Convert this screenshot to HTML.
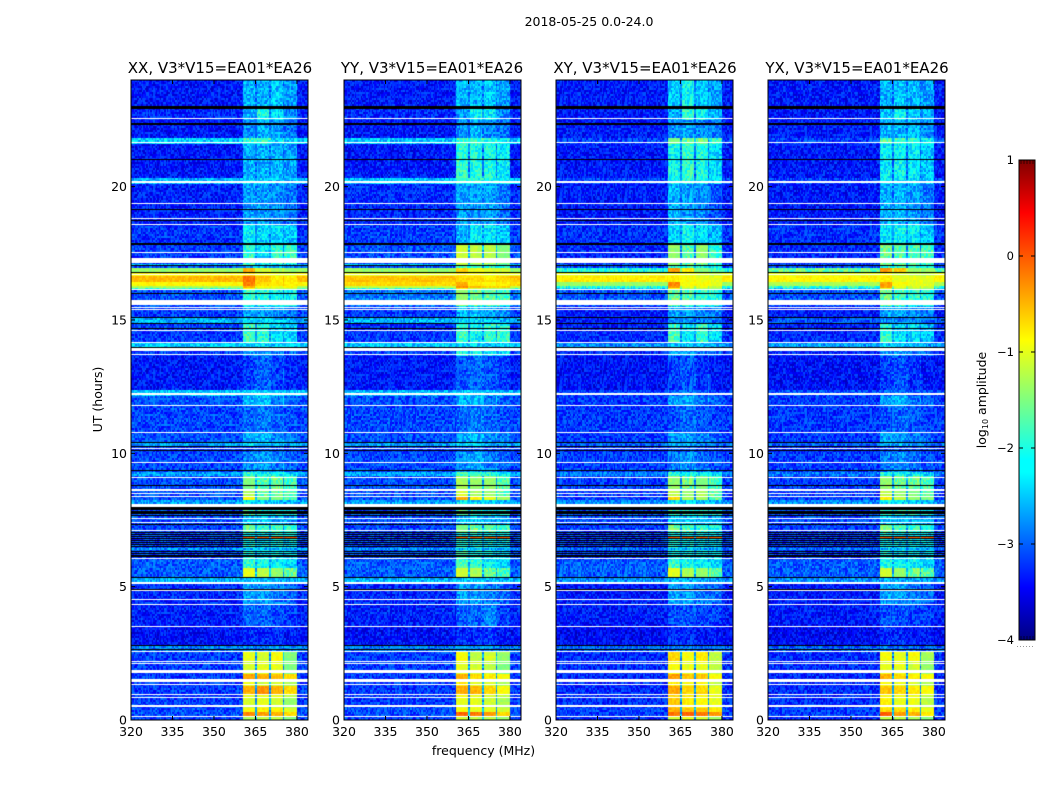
<!DOCTYPE html>
<html>
<head>
<meta charset="utf-8">
<title>2018-05-25 0.0-24.0</title>
<style>
html,body{margin:0;padding:0;background:#fff}
#figure{position:relative;width:1050px;height:800px;overflow:hidden;background:#fff;font-family:"DejaVu Sans","Liberation Sans",sans-serif}
canvas{position:absolute;top:80px;display:block}
svg{position:absolute;left:0;top:0}
text{font-family:"DejaVu Sans","Liberation Sans",sans-serif;fill:#000}
</style>
</head>
<body>
<div id="figure">
<canvas id="heat0" width="177" height="640" style="left:131px"></canvas>
<canvas id="heat1" width="177" height="640" style="left:344px"></canvas>
<canvas id="heat2" width="177" height="640" style="left:556px"></canvas>
<canvas id="heat3" width="177" height="640" style="left:768px"></canvas>
<svg id="overlay" width="1050" height="800" viewBox="0 0 1050 800">
<defs>
<linearGradient id="jet" x1="0" y1="1" x2="0" y2="0">
<stop offset="0" stop-color="#000080"/>
<stop offset="0.11" stop-color="#0000ff"/>
<stop offset="0.35" stop-color="#00ffff"/>
<stop offset="0.375" stop-color="#00ffff"/>
<stop offset="0.625" stop-color="#ffff00"/>
<stop offset="0.89" stop-color="#ff0000"/>
<stop offset="1" stop-color="#800000"/>
</linearGradient>
</defs>
<text x="589" y="26" font-size="12.5" text-anchor="middle">2018-05-25 0.0-24.0</text>
<text x="220" y="73" font-size="15" text-anchor="middle">XX, V3*V15=EA01*EA26</text>
<text x="432" y="73" font-size="15" text-anchor="middle">YY, V3*V15=EA01*EA26</text>
<text x="645" y="73" font-size="15" text-anchor="middle">XY, V3*V15=EA01*EA26</text>
<text x="857" y="73" font-size="15" text-anchor="middle">YX, V3*V15=EA01*EA26</text>
<text x="483.500" y="755" font-size="12.5" text-anchor="middle">frequency (MHz)</text>
<text transform="translate(102,399.500) rotate(-90)" font-size="12.5" text-anchor="middle">UT (hours)</text>
<text transform="translate(986,400) rotate(-90)" font-size="12.5" text-anchor="middle">log<tspan font-size="8" dy="2">10</tspan><tspan dy="-2"> amplitude</tspan></text>
<rect x="1019" y="160" width="16" height="480" fill="url(#jet)" stroke="#000" stroke-width="1"/>
<line x1="1017" y1="646.500" x2="1035" y2="646.500" stroke="#999" stroke-width="1" stroke-dasharray="1 2"/>
</svg>
</div>
<script>
// Frequency (MHz) and UT (hours) axis ranges and tick labels
const freqDomain = [320, 384];
const utDomain = [0, 24];
const freqTicks = [320, 335, 350, 365, 380];
const utTicks = [0, 5, 10, 15, 20];
const colorTicks = [1, 0, -1, -2, -3, -4];
const colorTickLabels = ['1', '0', '\u22121', '\u22122', '\u22123', '\u22124'];
const colorDomain = [-4, 1];
const channelCount = 128;
const timeCount = 320;

// Edges of the four receiver sub-bands (MHz) and the gaps between them
const subBandEdges = [[360.5, 365.2], [365.7, 370.0], [370.6, 375.0], [375.7, 380.0]];

// UT hour at the top of each horizontal band
const bandTops = [24.00,22.99,22.53,21.82,21.63,20.35,20.13,18.59,17.88,17.35,17.13,17.05,16.92,16.77,16.68,16.42,16.30,16.19,16.13,15.55,15.44,15.06,14.88,14.58,14.14,13.98,13.68,12.38,12.18,11.76,10.79,10.39,10.26,10.07,9.33,9.14,8.61,8.39,8.24,7.97,7.67,7.37,7.03,6.47,6.36,6.03,5.72,5.35,5.20,4.33,3.55,2.78,2.55,2.17,1.71,1.44,1.31,0.98,0.81,0.48,0.30,0.14];

// log10 amplitude per band: [outside, sub-band 1, 2, 3, 4]
const levelsXX = [[-3.3,-2.5,-2.5,-2.4,-2.6],[-3.2,-2.5,-2.0,-2.3,-2.7],[-3.3,-2.7,-2.5,-2.6,-2.8],[-2.35,-1.9,-1.9,-2.3,-2.35],[-3.3,-2.5,-2.5,-2.5,-2.6],[-2.5,-2.3,-2.3,-2.4,-2.5],[-3.25,-2.6,-2.6,-2.7,-2.8],[-3.15,-2.2,-2.3,-2.3,-2.4],[-3.1,-1.9,-2.2,-1.9,-1.9],[-3.1,-1.9,-2.2,-1.9,-1.9],[-2.4,-1.8,-2.2,-2.3,-2.4],[-3.0,-2.5,-2.5,-2.6,-2.7],[-1.4,-0.5,-1.1,-1.3,-1.4],[-0.85,-0.7,-0.9,-1.0,-1.0],[-0.55,-0.2,-0.6,-0.8,-0.8],[-0.85,-0.25,-0.7,-0.8,-0.8],[-1.3,-0.5,-0.9,-1.0,-0.9],[-1.9,-0.9,-1.2,-1.2,-1.2],[-3.0,-1.9,-1.9,-2.1,-2.1],[-3.0,-2.4,-2.4,-2.5,-2.6],[-3.1,-2.6,-2.6,-2.7,-2.8],[-2.5,-2.3,-2.3,-2.4,-2.5],[-3.1,-1.9,-2.0,-2.3,-2.4],[-3.1,-1.8,-1.9,-2.2,-2.3],[-2.4,-2.3,-2.3,-2.4,-2.4],[-3.1,-2.6,-2.6,-2.8,-2.9],[-3.3,-3.1,-2.9,-3.1,-3.2],[-2.4,-2.3,-2.3,-2.4,-2.4],[-3.0,-2.5,-2.4,-2.8,-2.9],[-3.05,-2.9,-2.8,-2.9,-3.0],[-3.0,-2.5,-2.5,-2.7,-2.8],[-2.6,-2.3,-2.3,-2.5,-2.6],[-3.1,-3.0,-2.9,-3.0,-3.0],[-3.05,-2.7,-2.6,-2.8,-2.9],[-2.6,-1.9,-2.1,-2.2,-2.3],[-3.0,-1.5,-1.7,-1.6,-1.8],[-3.0,-1.3,-1.6,-1.7,-1.8],[-3.0,-0.9,-1.5,-1.5,-1.7],[-2.6,-2.2,-2.3,-2.4,-2.5],[-3.0,-1.8,-2.0,-2.0,-2.1],[-3.0,-2.4,-2.4,-2.5,-2.6],[-3.05,-1.6,-1.9,-1.8,-1.9],[-3.05,-2.0,-2.2,-2.1,-2.2],[-2.6,-2.5,-2.5,-2.6,-2.6],[-3.05,-2.0,-2.2,-2.2,-2.3],[-2.95,-1.9,-2.0,-2.2,-2.3],[-2.95,-1.0,-1.2,-1.4,-1.6],[-2.5,-2.4,-2.4,-2.5,-2.5],[-3.2,-2.6,-2.6,-2.8,-2.9],[-3.25,-2.9,-2.9,-3.0,-3.1],[-3.35,-3.2,-3.2,-3.2,-3.3],[-2.75,-2.7,-2.7,-2.7,-2.7],[-3.1,-1.0,-1.1,-0.9,-1.5],[-3.1,-1.1,-1.0,-1.0,-1.5],[-3.1,-0.4,-0.5,-0.6,-0.7],[-3.1,-1.0,-1.1,-1.1,-1.3],[-3.1,-0.5,-0.35,-0.5,-0.7],[-3.1,-1.0,-1.0,-1.0,-1.2],[-3.1,-1.1,-1.0,-1.1,-1.4],[-3.0,-0.9,-0.8,-0.8,-1.0],[-3.0,-0.3,-0.4,-0.5,-0.7],[-3.1,-1.3,-1.2,-1.2,-1.5]];
const levelsYY = [[-3.3,-2.5,-2.5,-2.4,-2.6],[-3.2,-2.6,-2.1,-2.2,-2.7],[-3.3,-2.7,-2.5,-2.7,-2.8],[-2.4,-1.8,-1.9,-2.0,-2.2],[-3.3,-1.9,-2.0,-2.0,-2.2],[-2.45,-2.0,-2.0,-2.1,-2.2],[-3.2,-2.6,-2.6,-2.6,-2.8],[-3.1,-2.5,-2.2,-2.2,-2.4],[-3.0,-1.1,-1.2,-1.2,-1.5],[-3.0,-1.1,-1.2,-1.2,-1.5],[-2.4,-1.3,-1.5,-1.6,-1.7],[-3.0,-1.8,-1.9,-2.0,-2.0],[-1.4,-0.7,-1.0,-1.1,-1.1],[-1.0,-0.8,-0.9,-1.0,-1.0],[-0.6,-0.7,-0.7,-0.8,-0.7],[-0.7,-0.5,-0.8,-0.9,-0.8],[-1.2,-0.3,-0.6,-0.7,-0.7],[-1.9,-0.8,-1.1,-1.3,-1.3],[-2.8,-1.4,-1.6,-1.7,-1.8],[-3.0,-2.4,-2.3,-2.5,-2.6],[-3.1,-2.5,-2.4,-2.6,-2.7],[-2.5,-2.3,-2.3,-2.4,-2.5],[-3.2,-1.9,-2.1,-1.9,-2.0],[-3.1,-1.8,-2.1,-1.9,-1.9],[-2.4,-2.3,-2.3,-2.4,-2.4],[-3.1,-2.0,-2.1,-2.2,-2.3],[-3.3,-3.0,-2.9,-3.0,-3.1],[-2.5,-2.4,-2.4,-2.5,-2.5],[-3.0,-2.5,-2.4,-2.8,-2.9],[-3.05,-2.9,-2.8,-2.9,-3.0],[-3.0,-2.5,-2.5,-2.7,-2.8],[-2.6,-2.3,-2.3,-2.5,-2.6],[-3.1,-3.0,-2.9,-3.0,-3.0],[-3.05,-2.7,-2.6,-2.8,-2.9],[-2.6,-1.8,-2.0,-2.0,-2.2],[-3.0,-1.3,-1.4,-1.4,-1.7],[-3.0,-1.1,-1.3,-1.4,-1.7],[-3.0,-0.5,-0.8,-1.0,-1.3],[-2.6,-2.2,-2.3,-2.4,-2.5],[-3.0,-1.7,-1.9,-2.0,-2.1],[-3.0,-2.4,-2.4,-2.5,-2.6],[-3.05,-1.5,-1.6,-1.7,-1.9],[-3.05,-2.0,-2.1,-2.1,-2.2],[-2.6,-2.5,-2.5,-2.6,-2.6],[-3.05,-1.9,-2.1,-2.2,-2.3],[-2.95,-1.8,-1.9,-2.2,-2.3],[-2.95,-1.1,-1.3,-1.6,-1.8],[-2.5,-2.4,-2.4,-2.5,-2.5],[-3.2,-2.6,-2.6,-2.8,-2.9],[-3.25,-2.9,-2.9,-2.7,-3.1],[-3.35,-3.2,-3.2,-3.1,-3.3],[-2.8,-2.7,-2.7,-2.7,-2.8],[-3.1,-0.9,-1.2,-1.1,-1.4],[-3.1,-1.0,-1.1,-1.2,-1.5],[-3.1,-0.5,-0.7,-0.8,-0.9],[-3.1,-0.8,-1.0,-1.1,-1.3],[-3.1,-0.5,-0.5,-0.7,-0.9],[-3.1,-0.9,-1.0,-1.1,-1.2],[-3.1,-1.0,-1.0,-1.1,-1.3],[-3.0,-0.9,-1.0,-1.0,-1.1],[-3.0,-0.1,-0.2,-0.4,-0.7],[-3.1,-1.1,-1.2,-1.2,-1.4]];
const levelsXY = [[-3.3,-2.4,-2.1,-2.4,-2.6],[-3.3,-2.5,-1.9,-2.1,-2.5],[-3.3,-2.7,-2.6,-2.7,-2.8],[-3.1,-1.5,-1.6,-1.6,-1.9],[-3.3,-2.1,-1.9,-2.0,-2.3],[-3.1,-2.1,-2.0,-2.1,-2.3],[-3.3,-2.5,-2.6,-2.7,-3.0],[-3.2,-2.3,-2.1,-2.3,-2.5],[-3.2,-1.4,-1.7,-1.4,-1.9],[-3.2,-1.4,-1.7,-1.4,-1.9],[-3.0,-1.5,-1.6,-1.7,-1.9],[-3.1,-2.0,-2.0,-2.1,-2.2],[-2.0,-0.4,-0.8,-1.5,-1.8],[-1.0,-0.9,-1.0,-1.1,-1.2],[-0.8,-0.8,-0.9,-1.0,-1.0],[-1.4,-0.3,-0.9,-0.9,-1.0],[-2.0,-0.4,-1.0,-1.0,-1.2],[-2.4,-0.9,-1.3,-1.3,-1.4],[-3.0,-1.6,-1.8,-1.9,-2.0],[-3.2,-2.4,-2.4,-2.5,-2.6],[-3.3,-2.6,-2.6,-2.7,-2.8],[-3.3,-2.7,-2.7,-2.8,-2.9],[-3.3,-1.8,-2.2,-1.9,-2.3],[-3.2,-1.8,-2.2,-1.9,-2.3],[-2.7,-2.4,-2.4,-2.5,-2.6],[-3.2,-2.6,-2.6,-2.8,-2.9],[-3.35,-3.1,-3.0,-3.2,-3.3],[-3.1,-2.9,-2.8,-3.0,-3.1],[-3.1,-2.6,-2.5,-2.8,-2.9],[-3.15,-3.0,-2.9,-3.0,-3.1],[-3.1,-2.6,-2.6,-2.8,-2.9],[-2.9,-2.5,-2.5,-2.7,-2.8],[-3.2,-3.0,-3.0,-3.0,-3.1],[-3.1,-2.8,-2.7,-2.9,-3.0],[-2.8,-2.0,-2.1,-2.2,-2.3],[-3.1,-1.4,-1.6,-1.5,-1.8],[-3.1,-1.2,-1.4,-1.3,-1.7],[-3.1,-0.7,-1.3,-1.3,-1.7],[-2.7,-2.2,-2.3,-2.4,-2.5],[-3.05,-1.8,-2.0,-2.0,-2.1],[-3.05,-2.4,-2.4,-2.5,-2.6],[-3.1,-1.6,-1.8,-1.9,-2.0],[-3.1,-2.1,-2.2,-2.2,-2.3],[-2.85,-2.6,-2.6,-2.7,-2.7],[-3.1,-2.1,-2.2,-2.2,-2.3],[-2.95,-1.9,-2.0,-2.2,-2.3],[-2.95,-1.0,-1.3,-1.4,-1.7],[-2.7,-2.5,-2.5,-2.6,-2.6],[-3.3,-2.6,-2.6,-2.8,-2.9],[-3.3,-3.0,-3.0,-3.1,-3.1],[-3.4,-3.2,-3.2,-3.3,-3.3],[-2.9,-2.8,-2.8,-2.9,-2.9],[-3.2,-0.7,-0.9,-0.8,-1.2],[-3.2,-0.9,-1.0,-1.0,-1.2],[-3.2,-0.4,-0.6,-0.6,-0.9],[-3.2,-0.8,-0.9,-0.9,-1.2],[-3.2,-0.45,-0.7,-0.7,-1.0],[-3.2,-0.7,-0.8,-0.9,-1.0],[-3.2,-0.6,-0.8,-0.9,-1.0],[-3.1,-0.5,-0.6,-0.6,-0.8],[-3.1,-0.2,-0.1,-0.2,-0.4],[-3.2,-1.1,-1.0,-1.1,-1.3]];
const levelsYX = [[-3.3,-2.5,-2.4,-2.5,-2.6],[-3.3,-2.4,-2.1,-2.3,-2.5],[-3.3,-2.5,-2.5,-2.5,-2.7],[-3.1,-1.7,-1.8,-1.9,-2.1],[-3.3,-2.2,-2.1,-2.2,-2.4],[-3.1,-2.2,-2.2,-2.3,-2.4],[-3.3,-2.5,-2.5,-2.6,-2.8],[-3.2,-2.2,-2.1,-2.2,-2.4],[-3.2,-1.6,-1.7,-1.8,-1.8],[-3.2,-1.6,-1.7,-1.8,-1.8],[-3.0,-1.5,-1.6,-1.7,-1.8],[-3.1,-2.0,-2.0,-2.1,-2.2],[-1.6,-0.4,-0.6,-1.4,-1.4],[-1.0,-0.9,-1.1,-1.2,-1.2],[-0.85,-0.8,-1.0,-1.0,-1.0],[-1.3,-0.4,-0.9,-1.0,-1.0],[-1.9,-0.4,-1.0,-1.1,-1.1],[-2.4,-1.0,-1.3,-1.3,-1.4],[-3.0,-1.6,-1.8,-1.9,-2.0],[-3.2,-2.4,-2.4,-2.5,-2.6],[-3.3,-2.6,-2.6,-2.7,-2.8],[-3.0,-2.7,-2.7,-2.8,-2.9],[-3.3,-1.9,-2.3,-2.3,-2.5],[-3.2,-1.9,-2.2,-2.3,-2.4],[-2.6,-2.4,-2.4,-2.5,-2.6],[-3.2,-2.6,-2.6,-2.8,-2.9],[-3.35,-3.1,-3.0,-3.2,-3.3],[-3.0,-2.9,-2.8,-3.0,-3.0],[-3.1,-2.6,-2.5,-2.8,-2.9],[-3.15,-3.0,-2.9,-3.0,-3.1],[-3.1,-2.6,-2.6,-2.8,-2.9],[-2.9,-2.5,-2.5,-2.7,-2.8],[-3.2,-3.0,-3.0,-3.0,-3.1],[-3.1,-2.8,-2.7,-2.9,-3.0],[-2.8,-2.0,-2.1,-2.2,-2.3],[-3.1,-1.4,-1.6,-1.6,-1.8],[-3.1,-1.2,-1.4,-1.5,-1.7],[-3.1,-0.8,-1.2,-1.4,-1.5],[-2.7,-2.2,-2.3,-2.4,-2.5],[-3.05,-1.8,-2.0,-2.0,-2.1],[-3.05,-2.4,-2.4,-2.5,-2.6],[-3.1,-1.6,-1.8,-1.9,-2.0],[-3.1,-2.1,-2.2,-2.2,-2.3],[-2.85,-2.6,-2.6,-2.7,-2.7],[-3.1,-2.1,-2.2,-2.2,-2.3],[-2.95,-2.0,-2.1,-2.2,-2.3],[-2.95,-1.1,-1.4,-1.6,-1.7],[-2.7,-2.5,-2.5,-2.6,-2.6],[-3.3,-2.6,-2.6,-2.8,-2.9],[-3.3,-3.0,-3.0,-3.1,-3.1],[-3.4,-3.2,-3.2,-3.3,-3.3],[-2.9,-2.8,-2.8,-2.9,-2.9],[-3.2,-0.9,-1.0,-0.9,-1.3],[-3.2,-1.0,-1.0,-1.1,-1.4],[-3.2,-0.5,-0.7,-0.8,-0.9],[-3.2,-0.9,-1.0,-1.1,-1.3],[-3.2,-0.6,-0.7,-0.8,-0.9],[-3.2,-0.9,-0.9,-1.0,-1.2],[-3.2,-0.8,-1.0,-1.0,-1.2],[-3.1,-0.7,-0.7,-0.8,-1.0],[-3.1,-0.1,-0.4,-0.5,-0.8],[-3.2,-1.2,-1.2,-1.3,-1.5]];
const panelLevels = [levelsXX, levelsYY, levelsXY, levelsYX];

// Short narrow-band bursts inside the sub-bands: [upper UT, lower UT, level]
const subBandBursts = [[6.87,6.83,-0.1]];

// Flagged time ranges (UT hours: [upper, lower])
const blankFlags = [[22.56,22.52],[21.66,21.62],[20.21,20.14],[19.37,19.34],[18.81,18.77],[18.60,18.56],[17.54,17.50],[17.33,17.13],[16.74,16.70],[16.17,16.13],[15.74,15.55],[15.49,15.45],[15.41,15.37],[14.63,14.60],[14.17,14.14],[13.94,13.83],[13.71,13.68],[12.26,12.18],[11.80,11.76],[10.79,10.75],[10.21,10.15],[9.66,9.62],[9.12,9.09],[8.65,8.58],[8.51,8.49],[8.41,8.39],[8.10,7.99],[7.58,7.55],[7.41,7.38],[7.13,7.09],[6.08,6.04],[5.16,5.09],[4.87,4.84],[4.55,4.52],[4.36,4.33],[3.54,3.51],[2.60,2.57],[2.21,2.18],[2.13,2.09],[1.88,1.76],[1.52,1.44],[1.35,1.32],[0.98,0.94],[0.85,0.81],[0.55,0.48],[0.14,0.10]];
const zeroFlags = [[23.03,22.91],[22.37,22.33],[21.03,21.00],[19.17,19.13],[18.75,18.71],[17.88,17.83],[17.07,17.04],[16.79,16.76],[16.02,15.98],[15.10,15.07],[14.90,14.87],[14.70,14.67],[13.99,13.95],[10.41,10.38],[10.28,10.24],[10.14,10.08],[9.36,9.33],[8.80,8.77],[7.97,7.93],[7.90,7.86],[7.82,7.78],[7.75,7.71],[7.69,7.65],[7.34,7.30],[7.05,7.01],[6.98,6.94],[6.90,6.86],[6.83,6.79],[6.75,6.71],[6.68,6.64],[6.60,6.56],[6.53,6.49],[6.34,6.30],[6.27,6.23],[6.19,6.15],[6.14,6.10],[5.37,5.33],[4.92,4.88],[2.82,2.78],[2.65,2.61]];

// Fine speckle table (log10 offsets) used as texture on top of the band levels
const grainTable = [0.21,-0.28,0.05,0.33,-0.12,-0.35,0.17,0.02,-0.22,0.29,-0.06,0.11,-0.31,0.25,0.08,-0.17,0.35,-0.02,-0.26,0.14,-0.09,0.3,-0.33,0.06,0.19,-0.14,0.27,-0.24,0.0,0.12,-0.3,0.23,-0.04,0.32,-0.19,0.09,-0.11,-0.27,0.16,0.03,0.28,-0.21,-0.07,0.34,-0.34,0.13,0.24];

const colorMinorOffsets = [2, 5, 8, 11, 14];

const plotTop = 80;
const plotHeight = 640;
const plotWidth = 177;
const panelLefts = [131, 344, 556, 768];
const colorTop = 160;
const colorHeight = 480;
const colorLeft = 1019;
const colorWidth = 16;

function xScale(freq) { return (freq - freqDomain[0]) / (freqDomain[1] - freqDomain[0]) * plotWidth; }
function yScale(hour) { return (1 - (hour - utDomain[0]) / (utDomain[1] - utDomain[0])) * plotHeight; }
function colorScale(v) { return colorTop + (colorDomain[1] - v) / (colorDomain[1] - colorDomain[0]) * colorHeight; }
function clamp01(v) { return Math.max(0, Math.min(1, v)); }
function jet(level) {
  const t = clamp01((level - colorDomain[0]) / (colorDomain[1] - colorDomain[0]));
  const r = clamp01(Math.min(4 * t - 1.5, -4 * t + 4.5));
  const g = clamp01(Math.min(4 * t - 0.5, -4 * t + 3.5));
  const b = clamp01(Math.min(4 * t + 0.5, -4 * t + 2.5));
  return 'rgb(' + Math.round(r * 255) + ',' + Math.round(g * 255) + ',' + Math.round(b * 255) + ')';
}
function bandIndex(hour) {
  let found = 0;
  for (let k = 0; k < bandTops.length; k++) { if (bandTops[k] >= hour) found = k; }
  return found;
}
function burstAt(hour) {
  for (let b = 0; b < subBandBursts.length; b++) {
    if (hour <= subBandBursts[b][0] && hour >= subBandBursts[b][1]) return subBandBursts[b][2];
  }
  return null;
}
function cellLevel(row, freq, burst) {
  for (let s = 0; s < subBandEdges.length; s++) {
    if (freq >= subBandEdges[s][0] && freq < subBandEdges[s][1]) return burst === null ? row[s + 1] : burst;
  }
  if (freq > subBandEdges[0][0] && freq < subBandEdges[3][1]) return Math.min(row[0] + 0.5, row[2]);
  return row[0];
}
function drawHeatmap(index) {
  const ctx = document.getElementById('heat' + index).getContext('2d');
  const levels = panelLevels[index];
  const freqStep = (freqDomain[1] - freqDomain[0]) / channelCount;
  const utStep = (utDomain[1] - utDomain[0]) / timeCount;
  for (let j = 0; j < timeCount; j++) {
    const hourLow = utDomain[0] + j * utStep;
    const row = levels[bandIndex(hourLow + utStep / 2)];
    const burst = burstAt(hourLow + utStep / 2);
    const y0 = Math.round(yScale(hourLow + utStep));
    const y1 = Math.round(yScale(hourLow));
    for (let i = 0; i < channelCount; i++) {
      const freq = freqDomain[0] + i * freqStep;
      const base = cellLevel(row, freq + freqStep / 2, burst);
      const pick = (i * i * 3 + j * j * 7 + i * j * 5 + i * 11 + index * 17) % grainTable.length;
      const weight = base > -1.6 ? 0.3 : 1;
      const x0 = Math.round(xScale(freq));
      const x1 = Math.round(xScale(freq + freqStep));
      ctx.fillStyle = jet(base + grainTable[pick] * weight);
      ctx.fillRect(x0, y0, x1 - x0, y1 - y0);
    }
  }
  ctx.fillStyle = '#fff';
  blankFlags.forEach(function (f) {
    const top = Math.round(yScale(f[0]));
    ctx.fillRect(0, top, plotWidth, Math.max(1, Math.round(yScale(f[1])) - top));
  });
  ctx.fillStyle = '#000';
  zeroFlags.forEach(function (f) {
    const top = Math.round(yScale(f[0]));
    ctx.fillRect(0, top, plotWidth, Math.max(1, Math.round(yScale(f[1])) - top));
  });
}
const svgNS = 'http://www.w3.org/2000/svg';
const overlay = document.getElementById('overlay');
function svgEl(tag, attrs, text) {
  const el = document.createElementNS(svgNS, tag);
  Object.keys(attrs).forEach(function (k) { el.setAttribute(k, attrs[k]); });
  if (text !== undefined) el.textContent = text;
  overlay.appendChild(el);
  return el;
}
function drawAxes(index) {
  const left = panelLefts[index];
  const frame = svgEl('rect', { x: left, y: plotTop, width: plotWidth, height: plotHeight, fill: 'none', stroke: '#000', 'stroke-width': 1 });
  
  
  freqTicks.forEach(function (freq) {
    const x = left + xScale(freq);
    const bottomTick = svgEl('line', { x1: x, x2: x, y1: plotTop + plotHeight, y2: plotTop + plotHeight - 4, stroke: '#000', 'stroke-width': 1 });
    
    
    const topTick = svgEl('line', { x1: x, x2: x, y1: plotTop, y2: plotTop + 4, stroke: '#000', 'stroke-width': 1 });
    
    
    const label = svgEl('text', { x: x, y: 736, 'font-size': 12.5, 'text-anchor': 'middle' }, String(freq));
    
    
  });
  utTicks.forEach(function (hour) {
    const y = plotTop + yScale(hour);
    const leftTick = svgEl('line', { x1: left, x2: left + 4, y1: y, y2: y, stroke: '#000', 'stroke-width': 1 });
    
    
    const rightTick = svgEl('line', { x1: left + plotWidth, x2: left + plotWidth - 4, y1: y, y2: y, stroke: '#000', 'stroke-width': 1 });
    
    
    const label = svgEl('text', { x: left - 4, y: y + 4.5, 'font-size': 12.5, 'text-anchor': 'end' }, String(hour));
    
    
  });
}
function drawColorbarTicks() {
  colorTicks.forEach(function (value, k) {
    const y = colorScale(value);
    const leftTick = svgEl('line', { x1: colorLeft, x2: colorLeft + 4, y1: y, y2: y, stroke: '#000', 'stroke-width': 1 });
    
    
    const rightTick = svgEl('line', { x1: colorLeft + colorWidth, x2: colorLeft + colorWidth - 4, y1: y, y2: y, stroke: '#000', 'stroke-width': 1 });
    
    
    const label = svgEl('text', { x: colorLeft - 5, y: y + 4, 'font-size': 11.5, 'text-anchor': 'end' }, colorTickLabels[k]);
    
    
  });
  colorMinorOffsets.forEach(function (offset) {
    const x = colorLeft + offset;
    const topMinor = svgEl('line', { x1: x, x2: x, y1: colorTop, y2: colorTop + 4, stroke: '#000', 'stroke-width': 0.6 });
    
    
    const bottomMinor = svgEl('line', { x1: x, x2: x, y1: colorTop + colorHeight, y2: colorTop + colorHeight - 4, stroke: '#000', 'stroke-width': 0.6 });
    
    
  });
}
panelLevels.forEach(function (levels, index) {
  drawHeatmap(index);
  drawAxes(index);
});
drawColorbarTicks();
</script>
</body>
</html>
